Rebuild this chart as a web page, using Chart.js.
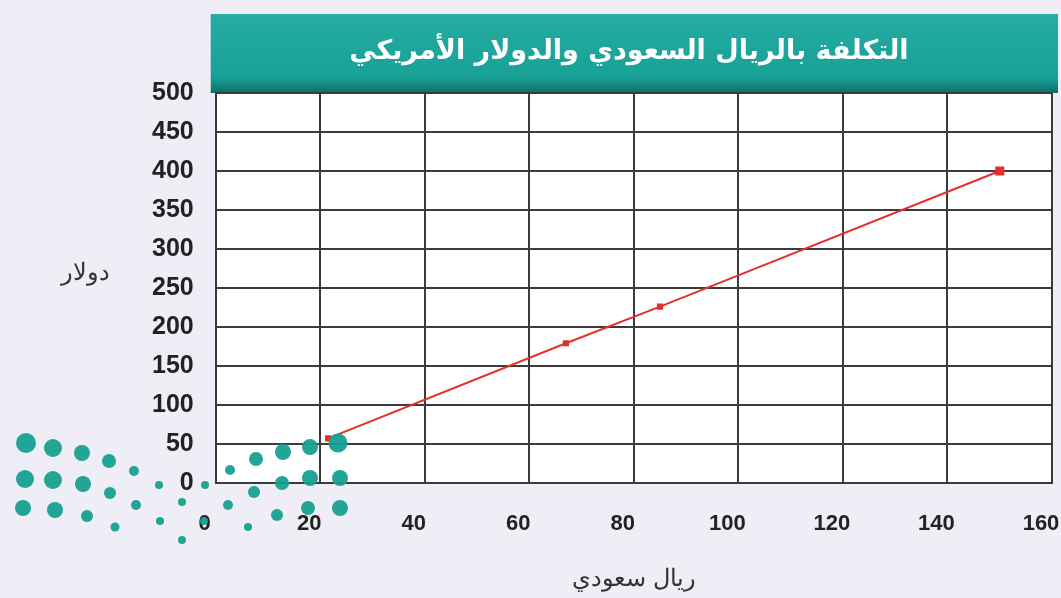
<!DOCTYPE html>
<html lang="ar">
<head>
<meta charset="utf-8">
<script src="https://cdn.jsdelivr.net/npm/chart.js@4.4.1/dist/chart.umd.min.js"></script>
<style>
  html, body { margin: 0; padding: 0; background: #efedf5; overflow: hidden; }
  #wrap { position: relative; width: 1061px; height: 598px; overflow: hidden; }
  #logo { position: absolute; left: 0; top: 0; pointer-events: none; }
</style>
</head>
<body>
<div id="wrap">
  <canvas id="lineChart" width="1061" height="598"></canvas>
  <canvas id="logo" width="400" height="598"></canvas>
</div>
<script>
  // data
  const riyal  = [21.5, 67, 85, 150];
  const dollar = [57, 179, 226, 400];
  const pointSizes = [3, 3, 3, 5];

  const chartTitle = 'التكلفة بالريال السعودي والدولار الأمريكي';
  const xTitle = 'ريال سعودي';
  const yTitle = 'دولار';

  const gridColor = '#3b3b3b';
  const teal = '#18a197';

  // teal banner over the plot + horizontal y title
  const banner = {
    id: 'banner',
    beforeDraw(chart) {
      const { ctx, chartArea } = chart;
      const top = 14, h = chartArea.top - top;
      const g = ctx.createLinearGradient(0, top, 0, chartArea.top);
      g.addColorStop(0, '#26aca2');
      g.addColorStop(0.8, teal);
      g.addColorStop(1, '#0c6e66');
      ctx.save();
      ctx.fillStyle = g;
      ctx.fillRect(chartArea.left - 5, top, chartArea.right - chartArea.left + 11, h);
      ctx.fillStyle = '#ffffff';
      ctx.fillRect(chartArea.left, chartArea.top, chartArea.right - chartArea.left, chartArea.bottom - chartArea.top);
      ctx.restore();
    },
    afterDraw(chart) {
      const { ctx, chartArea, scales } = chart;
      ctx.save();
      ctx.fillStyle = '#ffffff';
      ctx.font = 'bold 27px "DejaVu Sans", sans-serif';
      ctx.textAlign = 'center';
      ctx.textBaseline = 'middle';
      ctx.direction = 'rtl';
      ctx.fillText(chartTitle, (chartArea.left + chartArea.right) / 2 - 5, 52);
      ctx.fillStyle = '#333333';
      ctx.font = '24px "DejaVu Serif", serif';
      ctx.fillText(yTitle, chartArea.left - 130, scales.y.getPixelForValue(268));
      ctx.restore();
    }
  };

  new Chart(document.getElementById('lineChart'), {
    type: 'scatter',
    data: {
      datasets: [{
        data: riyal.map((x, i) => ({ x: x, y: dollar[i] })),
        showLine: true,
        borderColor: '#e3302c',
        backgroundColor: '#e3302c',
        borderWidth: 2,
        pointStyle: 'rect',
        pointRadius: pointSizes,
        pointHoverRadius: pointSizes
      }]
    },
    options: {
      responsive: false,
      animation: false,
      layout: { padding: { top: 93, left: 130, right: 0, bottom: 4 } },
      plugins: { legend: { display: false }, tooltip: { enabled: false } },
      scales: {
        x: {
          type: 'linear',
          min: 0, max: 160,
          afterFit(s) { s.paddingRight = 9; s.paddingLeft = 0; },
          ticks: { stepSize: 20, color: '#222', padding: 28, labelOffset: -11, font: { family: 'Liberation Sans, Arial', size: 22, weight: 'bold' } },
          grid: { color: gridColor, lineWidth: 2, drawTicks: false },
          border: { color: gridColor, width: 2 },
          title: { display: true, text: xTitle, color: '#333', padding: { top: 0, bottom: 0 }, font: { family: 'DejaVu Serif, serif', size: 24 } }
        },
        y: {
          min: 0, max: 500,
          ticks: { stepSize: 50, color: '#222', padding: 22, font: { family: 'Liberation Sans, Arial', size: 25, weight: 'bold' } },
          grid: { color: gridColor, lineWidth: 2, drawTicks: false },
          border: { color: gridColor, width: 2 }
        }
      }
    },
    plugins: [banner]
  });

  // watermark dots (decoration in the lower-left corner, not chart data)
  (function () {
    const c = document.getElementById('logo').getContext('2d');
    const dots = [
      [26,443,10],[53,448,9],[82,453,8],[109,461,7],[134,471,5],[159,485,4],
      [205,485,4],[230,470,5],[256,459,7],[283,452,8],[310,447,8],[338,443,9.5],
      [25,479,9],[53,480,9],[83,484,8],[110,493,6],[136,505,5],[182,502,4],
      [228,505,5],[254,492,6],[282,483,7],[310,478,8],[340,478,8],
      [23,508,8],[55,510,8],[87,516,6],[115,527,4.5],[160,521,4],[182,540,4],
      [204,521,4],[248,527,4],[277,515,6],[308,508,7],[340,508,8]
    ];
    c.fillStyle = 'rgba(22,160,145,0.95)';
    dots.forEach(d => { c.beginPath(); c.arc(d[0], d[1], d[2], 0, Math.PI * 2); c.fill(); });
  })();
</script>
</body>
</html>
